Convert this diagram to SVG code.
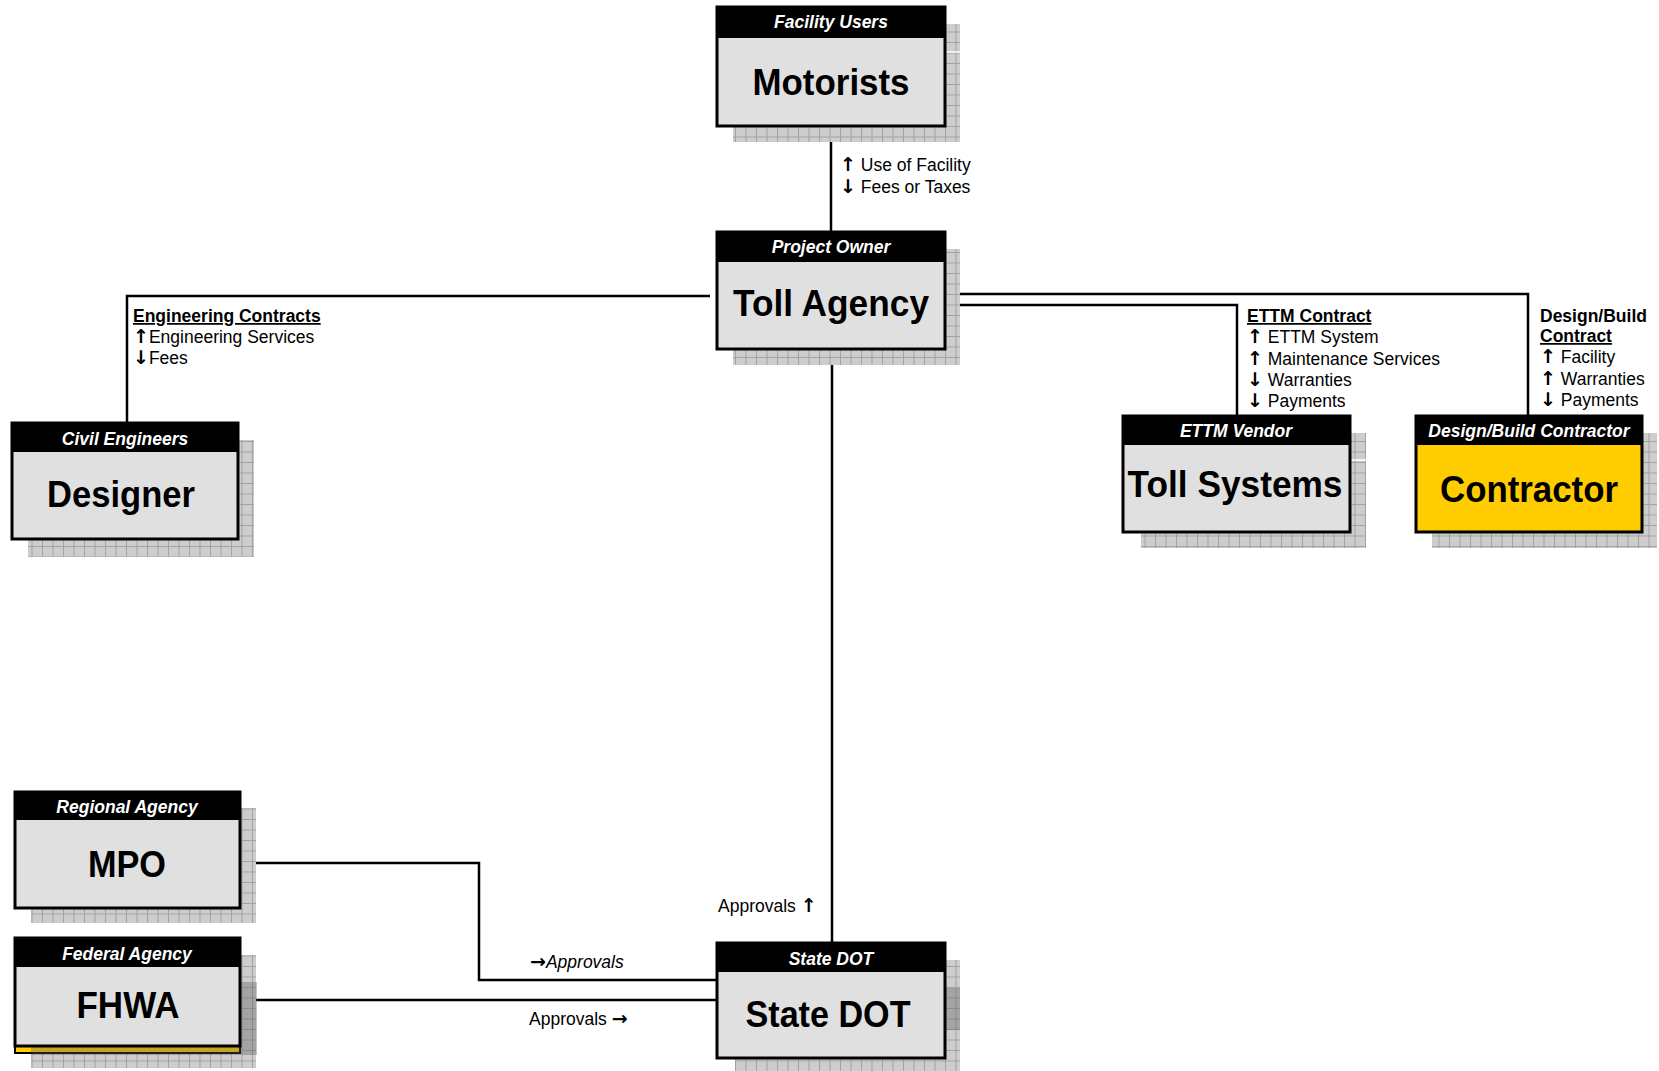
<svg xmlns="http://www.w3.org/2000/svg" width="1659" height="1071" viewBox="0 0 1659 1071">
<style>
.sh{fill:url(#grid)}
.box{fill:#e0e0e0;stroke:#000;stroke-width:3}
.yel{fill:#ffcc00;stroke:#000;stroke-width:3}
.hdr{fill:#000}
.ht{font-family:"Liberation Sans",Arial,sans-serif;font-weight:bold;font-style:italic;font-size:17.5px;fill:#fff;text-anchor:middle}
.big{font-family:"Liberation Sans",Arial,sans-serif;font-weight:bold;font-size:37px;fill:#000;text-anchor:middle}
.lbl{font-family:"Liberation Sans","DejaVu Sans",sans-serif;font-size:17.5px;fill:#000}
.lb{font-weight:bold}
.ul{text-decoration:underline}
.ar{font-family:"DejaVu Sans",sans-serif;font-size:19px;font-weight:bold;font-style:normal}
.con{fill:none;stroke:#000;stroke-width:2.5}
.dark{fill:#5a5a5a;opacity:.35}
</style>
<defs>
<pattern id="grid" width="10.5" height="10.5" patternUnits="userSpaceOnUse">
<rect width="10.5" height="10.5" fill="#cdcdcd"/>
<path d="M0 0.5H10.5M0.5 0V10.5" stroke="#a2a2a2" stroke-width="1"/>
</pattern>
</defs>

<g id="connectors">
<path class="con" d="M831 126V232"/>
<path class="con" d="M710 296H127V423"/>
<path class="con" d="M945 305H1237V416"/>
<path class="con" d="M945 294H1528V416"/>
<path class="con" d="M832 349V943"/>
<path class="con" d="M240 863H479V980H717"/>
<path class="con" d="M240 1000H717"/>
</g>

<g id="labels">
<text class="lbl" x="840" y="171"><tspan class="ar">↑</tspan> Use of Facility</text>
<text class="lbl" x="840" y="193"><tspan class="ar">↓</tspan> Fees or Taxes</text>
<text class="lbl lb ul" x="133" y="322">Engineering Contracts</text>
<text class="lbl" x="133" y="343"><tspan class="ar">↑</tspan>Engineering Services</text>
<text class="lbl" x="133" y="364"><tspan class="ar">↓</tspan>Fees</text>
<text class="lbl lb ul" x="1247" y="322">ETTM Contract</text>
<text class="lbl" x="1247" y="343"><tspan class="ar">↑</tspan> ETTM System</text>
<text class="lbl" x="1247" y="365"><tspan class="ar">↑</tspan> Maintenance Services</text>
<text class="lbl" x="1247" y="386"><tspan class="ar">↓</tspan> Warranties</text>
<text class="lbl" x="1247" y="407"><tspan class="ar">↓</tspan> Payments</text>
<text class="lbl lb" x="1540" y="322">Design/Build</text>
<text class="lbl lb ul" x="1540" y="342">Contract</text>
<text class="lbl" x="1540" y="363"><tspan class="ar">↑</tspan> Facility</text>
<text class="lbl" x="1540" y="385"><tspan class="ar">↑</tspan> Warranties</text>
<text class="lbl" x="1540" y="406"><tspan class="ar">↓</tspan> Payments</text>
<text class="lbl" x="718" y="912">Approvals <tspan class="ar">↑</tspan></text>
<text class="lbl" x="530" y="968" font-style="italic"><tspan class="ar">→</tspan>Approvals</text>
<text class="lbl" x="529" y="1025">Approvals <tspan class="ar">→</tspan></text>
</g>

<g id="motorists">
<rect class="sh" x="733" y="24" width="227" height="118"/>
<path d="M945 52H960" stroke="#fff" stroke-width="1.5"/>
<rect class="box" x="717" y="7" width="228" height="119"/>
<rect class="hdr" x="717" y="7" width="228" height="31"/>
<text class="ht" x="831" y="28">Facility Users</text>
<text class="big" x="831" y="95" textLength="157" lengthAdjust="spacingAndGlyphs">Motorists</text>
</g>

<g id="toll-agency">
<rect class="sh" x="733" y="249" width="227" height="116"/>
<rect class="box" x="717" y="232" width="228" height="117"/>
<rect class="hdr" x="717" y="232" width="228" height="30"/>
<text class="ht" x="831" y="253">Project Owner</text>
<text class="big" x="831" y="316" textLength="196" lengthAdjust="spacingAndGlyphs">Toll Agency</text>
</g>

<g id="designer">
<rect class="sh" x="28" y="440" width="226" height="117"/>
<rect class="box" x="12" y="423" width="226" height="116"/>
<rect class="hdr" x="12" y="423" width="226" height="29"/>
<text class="ht" x="125" y="445">Civil Engineers</text>
<text class="big" x="121" y="507" textLength="148" lengthAdjust="spacingAndGlyphs">Designer</text>
</g>

<g id="toll-systems">
<rect class="sh" x="1141" y="433" width="225" height="115"/>
<path d="M1350 460H1366" stroke="#fff" stroke-width="1.5"/>
<rect class="box" x="1123" y="416" width="227" height="116"/>
<rect class="hdr" x="1123" y="416" width="227" height="29"/>
<text class="ht" x="1236" y="437">ETTM  Vendor</text>
<text class="big" x="1235" y="497" textLength="215" lengthAdjust="spacingAndGlyphs">Toll Systems</text>
</g>

<g id="contractor">
<rect class="sh" x="1432" y="433" width="225" height="115"/>
<rect class="yel" x="1416" y="416" width="226" height="116"/>
<rect class="hdr" x="1416" y="416" width="226" height="29"/>
<text class="ht" x="1529" y="437">Design/Build Contractor</text>
<text class="big" x="1529" y="502" textLength="178" lengthAdjust="spacingAndGlyphs">Contractor</text>
</g>

<g id="mpo">
<rect class="sh" x="31" y="808" width="225" height="115"/>
<rect class="box" x="15" y="792" width="225" height="116"/>
<rect class="hdr" x="15" y="792" width="225" height="28"/>
<text class="ht" x="127" y="813">Regional Agency</text>
<text class="big" x="127" y="877" textLength="78" lengthAdjust="spacingAndGlyphs">MPO</text>
</g>

<g id="fhwa">
<rect class="sh" x="31" y="955" width="225" height="113"/>
<rect x="15" y="1040" width="225" height="13" fill="#ffcc00" stroke="#000" stroke-width="2"/>
<rect class="dark" x="31" y="982" width="226" height="73"/>
<rect class="box" x="15" y="938" width="225" height="108"/>
<rect class="hdr" x="15" y="938" width="225" height="29"/>
<text class="ht" x="127" y="960">Federal  Agency</text>
<text class="big" x="128" y="1018" textLength="103" lengthAdjust="spacingAndGlyphs">FHWA</text>
</g>

<g id="state-dot">
<rect class="sh" x="735" y="960" width="225" height="111"/>
<rect class="dark" x="735" y="988" width="225" height="42"/>
<rect class="box" x="717" y="943" width="228" height="115"/>
<rect class="hdr" x="717" y="943" width="228" height="29"/>
<text class="ht" x="831" y="965">State DOT</text>
<text class="big" x="828" y="1027" textLength="165" lengthAdjust="spacingAndGlyphs">State DOT</text>
</g>
</svg>
